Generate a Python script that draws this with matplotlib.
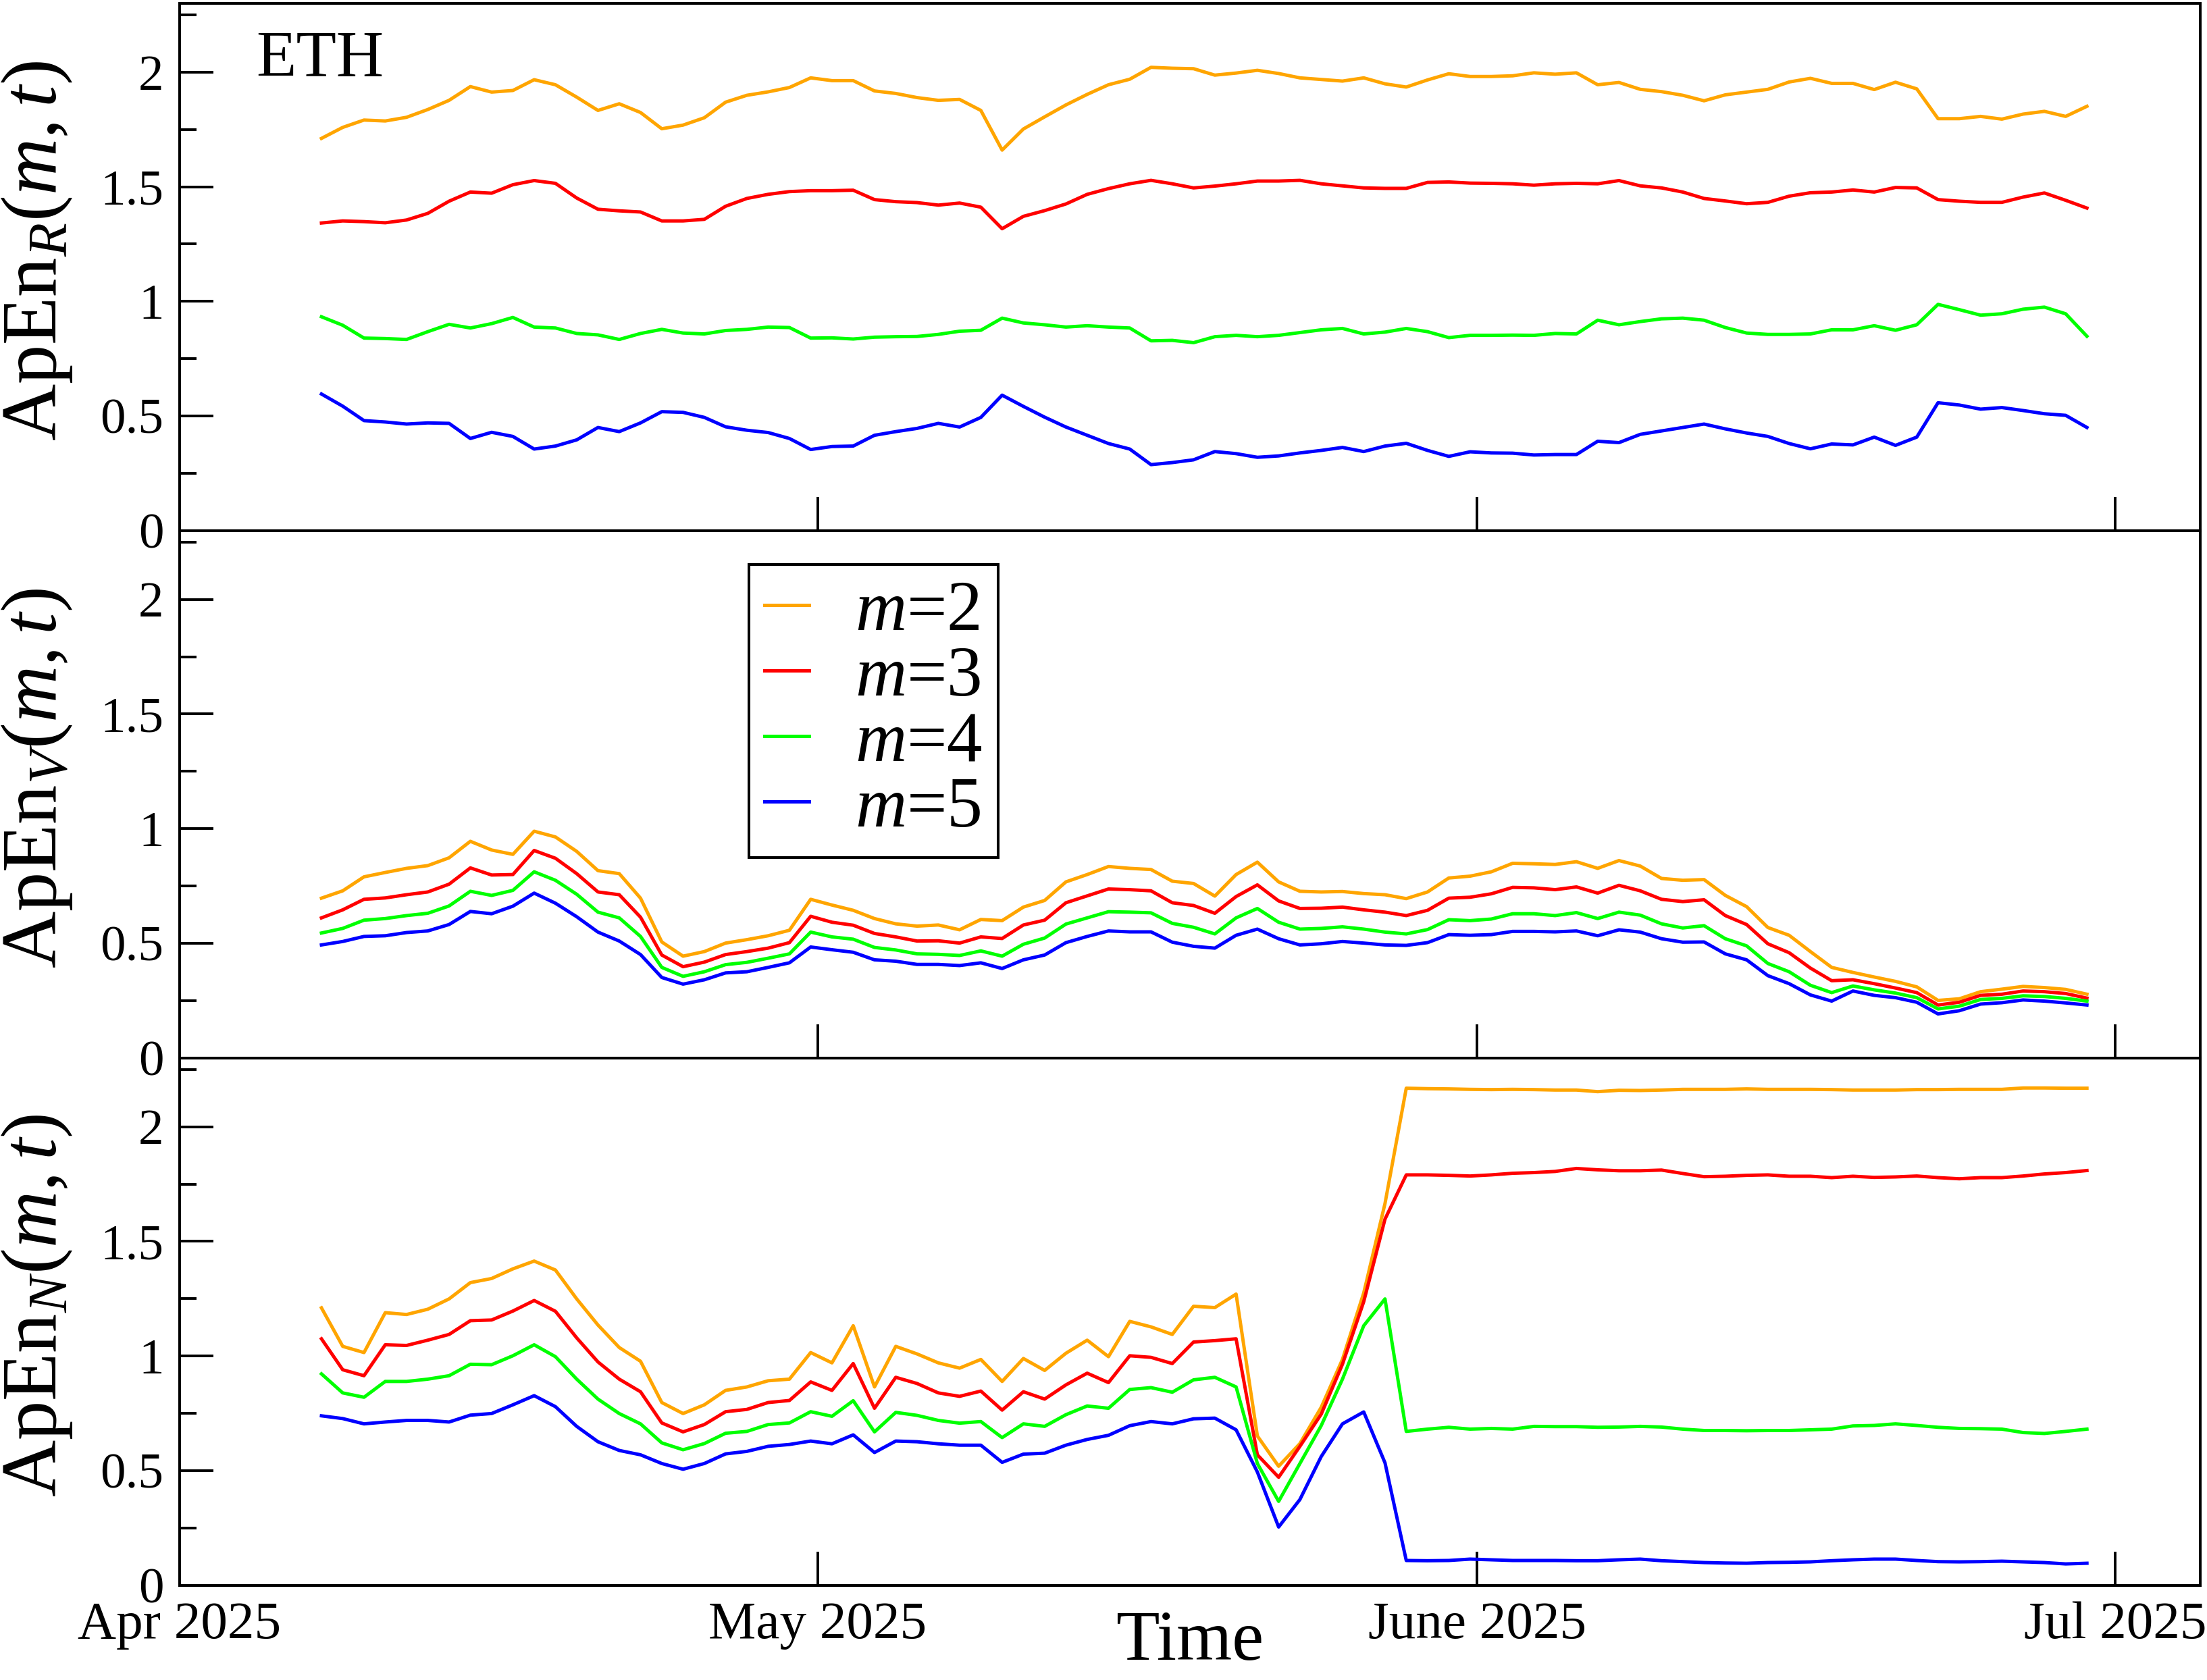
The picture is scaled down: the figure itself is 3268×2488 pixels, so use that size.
import matplotlib
matplotlib.use('Agg')
import matplotlib.pyplot as plt
import matplotlib.ticker as ticker
import pandas as pd

plt.rcParams['font.family'] = 'Liberation Serif'
plt.rcParams['mathtext.fontset'] = 'custom'
plt.rcParams['mathtext.rm'] = 'Liberation Serif'
plt.rcParams['mathtext.it'] = 'Liberation Serif:italic'

# daily windows, Apr 7 - Jun 29 2025
dates = pd.date_range('2025-04-07 16:00', periods=84, freq='D')

# --- ApEn_R ---
R_m2 = [1.711, 1.759, 1.791, 1.787, 1.803, 1.837, 1.877, 1.937, 1.913, 1.920, 1.967, 1.945, 1.891, 1.833,
        1.862, 1.824, 1.753, 1.769, 1.801, 1.869, 1.899, 1.914, 1.933, 1.975, 1.963, 1.963, 1.918, 1.907,
        1.889, 1.877, 1.881, 1.833, 1.660, 1.752, 1.805, 1.857, 1.903, 1.945, 1.969, 2.021, 2.017, 2.015,
        1.987, 1.996, 2.008, 1.994, 1.975, 1.968, 1.961, 1.975, 1.949, 1.935, 1.966, 1.993, 1.981,
        1.981, 1.984, 1.997, 1.991, 1.997, 1.945, 1.955, 1.925, 1.915, 1.899, 1.875, 1.901, 1.913, 1.925,
        1.957, 1.973, 1.951, 1.951, 1.924, 1.956, 1.927, 1.797, 1.797, 1.807, 1.795, 1.817, 1.829, 1.807, 1.851]
R_m3 = [1.342, 1.351, 1.348, 1.343, 1.355, 1.384, 1.437, 1.477, 1.472, 1.509, 1.527, 1.515, 1.451, 1.402,
        1.395, 1.390, 1.351, 1.351, 1.358, 1.415, 1.449, 1.467, 1.479, 1.483, 1.483, 1.485, 1.444, 1.435,
        1.431, 1.420, 1.429, 1.411, 1.317, 1.371, 1.396, 1.425, 1.467, 1.492, 1.513, 1.528, 1.513, 1.495,
        1.503, 1.513, 1.525, 1.525, 1.528, 1.513, 1.504, 1.495, 1.493, 1.493, 1.519, 1.521, 1.516,
        1.515, 1.513, 1.507, 1.513, 1.515, 1.513, 1.527, 1.504, 1.495, 1.477, 1.449, 1.438, 1.426, 1.432,
        1.459, 1.474, 1.477, 1.486, 1.477, 1.497, 1.495, 1.444, 1.437, 1.432, 1.432, 1.455, 1.473, 1.441, 1.407]
R_m4 = [0.933, 0.896, 0.840, 0.838, 0.834, 0.868, 0.900, 0.884, 0.903, 0.930, 0.888, 0.884, 0.860, 0.854,
        0.834, 0.860, 0.878, 0.862, 0.858, 0.873, 0.878, 0.888, 0.886, 0.840, 0.841, 0.836, 0.844, 0.846,
        0.847, 0.856, 0.870, 0.874, 0.927, 0.906, 0.898, 0.888, 0.894, 0.888, 0.884, 0.828, 0.830, 0.820,
        0.846, 0.852, 0.846, 0.852, 0.864, 0.876, 0.882, 0.858, 0.866, 0.882, 0.868, 0.842, 0.852,
        0.852, 0.853, 0.852, 0.860, 0.858, 0.918, 0.898, 0.912, 0.924, 0.927, 0.918, 0.886, 0.862, 0.856,
        0.856, 0.858, 0.876, 0.876, 0.894, 0.874, 0.898, 0.987, 0.964, 0.940, 0.946, 0.966, 0.975, 0.946, 0.848]
R_m5 = [0.596, 0.543, 0.480, 0.474, 0.465, 0.470, 0.468, 0.402, 0.429, 0.411, 0.356, 0.369, 0.396, 0.450,
        0.432, 0.470, 0.519, 0.516, 0.494, 0.453, 0.438, 0.428, 0.402, 0.354, 0.367, 0.369, 0.416, 0.432,
        0.446, 0.468, 0.452, 0.494, 0.591, 0.542, 0.495, 0.452, 0.416, 0.380, 0.356, 0.288, 0.297, 0.309,
        0.345, 0.336, 0.320, 0.326, 0.339, 0.350, 0.363, 0.345, 0.369, 0.381, 0.350, 0.324, 0.344,
        0.339, 0.338, 0.330, 0.332, 0.332, 0.390, 0.384, 0.420, 0.435, 0.450, 0.465, 0.444, 0.426, 0.411,
        0.380, 0.357, 0.378, 0.374, 0.408, 0.372, 0.408, 0.558, 0.548, 0.530, 0.537, 0.524, 0.510, 0.503, 0.450]

# --- ApEn_V ---
V_m2 = [0.697, 0.729, 0.790, 0.809, 0.827, 0.839, 0.873, 0.945, 0.907, 0.888, 0.989, 0.964, 0.901, 0.817,
        0.804, 0.697, 0.506, 0.444, 0.464, 0.501, 0.516, 0.533, 0.557, 0.692, 0.667, 0.644, 0.608, 0.585,
        0.575, 0.580, 0.559, 0.604, 0.599, 0.658, 0.687, 0.768, 0.800, 0.835, 0.827, 0.822, 0.771, 0.761,
        0.706, 0.800, 0.854, 0.768, 0.727, 0.724, 0.726, 0.717, 0.712, 0.695, 0.724, 0.785, 0.793,
        0.812, 0.849, 0.847, 0.844, 0.856, 0.827, 0.861, 0.837, 0.783, 0.775, 0.778, 0.709, 0.660, 0.569,
        0.535, 0.464, 0.395, 0.373, 0.353, 0.334, 0.310, 0.251, 0.258, 0.289, 0.300, 0.312, 0.307, 0.299, 0.278]
V_m3 = [0.611, 0.646, 0.692, 0.698, 0.712, 0.724, 0.758, 0.829, 0.798, 0.800, 0.905, 0.871, 0.804, 0.724,
        0.712, 0.614, 0.449, 0.398, 0.418, 0.451, 0.464, 0.479, 0.503, 0.618, 0.592, 0.579, 0.543, 0.528,
        0.510, 0.511, 0.501, 0.528, 0.521, 0.580, 0.601, 0.677, 0.707, 0.737, 0.734, 0.729, 0.677, 0.665,
        0.631, 0.704, 0.755, 0.685, 0.652, 0.653, 0.658, 0.646, 0.636, 0.621, 0.644, 0.697, 0.701,
        0.716, 0.744, 0.742, 0.734, 0.746, 0.719, 0.753, 0.729, 0.692, 0.682, 0.690, 0.621, 0.582, 0.498,
        0.459, 0.392, 0.337, 0.341, 0.324, 0.305, 0.285, 0.231, 0.243, 0.273, 0.278, 0.292, 0.289, 0.281, 0.261]
V_m4 = [0.545, 0.565, 0.601, 0.608, 0.621, 0.631, 0.663, 0.727, 0.709, 0.731, 0.812, 0.775, 0.714, 0.636,
        0.611, 0.530, 0.395, 0.356, 0.376, 0.407, 0.417, 0.435, 0.454, 0.549, 0.528, 0.518, 0.482, 0.471,
        0.454, 0.452, 0.447, 0.467, 0.444, 0.496, 0.523, 0.584, 0.611, 0.638, 0.636, 0.633, 0.587, 0.570,
        0.541, 0.611, 0.652, 0.592, 0.562, 0.565, 0.572, 0.562, 0.549, 0.541, 0.560, 0.603, 0.599,
        0.606, 0.629, 0.629, 0.621, 0.634, 0.608, 0.636, 0.623, 0.585, 0.567, 0.577, 0.520, 0.489, 0.412,
        0.376, 0.317, 0.285, 0.314, 0.297, 0.283, 0.263, 0.214, 0.226, 0.255, 0.260, 0.271, 0.268, 0.260, 0.248]
V_m5 = [0.493, 0.508, 0.530, 0.533, 0.547, 0.554, 0.582, 0.639, 0.629, 0.662, 0.719, 0.675, 0.616, 0.549,
        0.510, 0.451, 0.351, 0.322, 0.341, 0.371, 0.376, 0.395, 0.415, 0.484, 0.472, 0.461, 0.428, 0.422,
        0.408, 0.408, 0.403, 0.415, 0.390, 0.428, 0.449, 0.503, 0.530, 0.554, 0.550, 0.550, 0.505, 0.487,
        0.479, 0.535, 0.562, 0.520, 0.493, 0.498, 0.508, 0.501, 0.493, 0.491, 0.503, 0.538, 0.535,
        0.538, 0.552, 0.552, 0.550, 0.554, 0.533, 0.559, 0.549, 0.520, 0.505, 0.506, 0.454, 0.428, 0.359,
        0.324, 0.275, 0.248, 0.292, 0.273, 0.263, 0.243, 0.192, 0.206, 0.235, 0.241, 0.253, 0.248, 0.240, 0.231]

# --- ApEn_N ---
N_m2 = [1.210, 1.042, 1.015, 1.189, 1.181, 1.204, 1.249, 1.320, 1.338, 1.380, 1.414, 1.375, 1.249, 1.135,
        1.037, 0.977, 0.797, 0.749, 0.787, 0.850, 0.865, 0.892, 0.899, 1.015, 0.970, 1.132, 0.865, 1.042,
        1.009, 0.970, 0.947, 0.985, 0.889, 0.989, 0.937, 1.012, 1.069, 0.997, 1.151, 1.127, 1.094, 1.217,
        1.211, 1.270, 0.651, 0.519, 0.618, 0.776, 0.985, 1.275, 1.665, 2.168, 2.166, 2.165, 2.163,
        2.162, 2.163, 2.162, 2.160, 2.160, 2.153, 2.159, 2.158, 2.160, 2.163, 2.163, 2.163, 2.165, 2.163,
        2.163, 2.163, 2.162, 2.160, 2.160, 2.160, 2.162, 2.162, 2.163, 2.163, 2.163, 2.169, 2.169, 2.168, 2.168]
N_m3 = [1.075, 0.940, 0.914, 1.049, 1.046, 1.069, 1.094, 1.154, 1.157, 1.196, 1.242, 1.195, 1.079, 0.974,
        0.899, 0.844, 0.708, 0.669, 0.701, 0.757, 0.767, 0.797, 0.806, 0.887, 0.850, 0.967, 0.772, 0.907,
        0.880, 0.839, 0.824, 0.847, 0.764, 0.844, 0.812, 0.874, 0.925, 0.884, 1.001, 0.994, 0.967, 1.061,
        1.067, 1.075, 0.569, 0.471, 0.606, 0.746, 0.964, 1.237, 1.597, 1.790, 1.790, 1.788, 1.785,
        1.790, 1.797, 1.800, 1.805, 1.818, 1.812, 1.808, 1.808, 1.811, 1.796, 1.782, 1.784, 1.788, 1.790,
        1.784, 1.784, 1.778, 1.784, 1.779, 1.781, 1.785, 1.778, 1.773, 1.778, 1.778, 1.785, 1.794, 1.800, 1.809]
N_m4 = [0.922, 0.839, 0.820, 0.889, 0.889, 0.899, 0.914, 0.964, 0.962, 1.001, 1.049, 0.997, 0.899, 0.812,
        0.749, 0.704, 0.621, 0.591, 0.618, 0.663, 0.671, 0.701, 0.708, 0.757, 0.737, 0.805, 0.669, 0.754,
        0.741, 0.719, 0.707, 0.714, 0.644, 0.704, 0.693, 0.744, 0.782, 0.772, 0.854, 0.862, 0.842, 0.896,
        0.907, 0.865, 0.531, 0.366, 0.531, 0.696, 0.899, 1.132, 1.249, 0.671, 0.681, 0.689, 0.681,
        0.684, 0.681, 0.693, 0.692, 0.692, 0.689, 0.690, 0.693, 0.690, 0.681, 0.675, 0.675, 0.674, 0.675,
        0.675, 0.678, 0.681, 0.695, 0.697, 0.704, 0.697, 0.689, 0.684, 0.683, 0.681, 0.666, 0.662, 0.671, 0.681]
N_m5 = [0.739, 0.727, 0.704, 0.712, 0.719, 0.719, 0.712, 0.742, 0.749, 0.787, 0.827, 0.779, 0.693, 0.626,
        0.588, 0.569, 0.531, 0.506, 0.531, 0.573, 0.584, 0.606, 0.614, 0.629, 0.617, 0.656, 0.579, 0.629,
        0.626, 0.617, 0.611, 0.611, 0.536, 0.572, 0.576, 0.611, 0.636, 0.654, 0.696, 0.714, 0.704, 0.726,
        0.729, 0.678, 0.494, 0.254, 0.374, 0.561, 0.704, 0.756, 0.534, 0.108, 0.107, 0.108, 0.114,
        0.111, 0.108, 0.108, 0.108, 0.107, 0.107, 0.111, 0.114, 0.107, 0.103, 0.099, 0.097, 0.096, 0.099,
        0.100, 0.102, 0.107, 0.111, 0.114, 0.114, 0.108, 0.103, 0.102, 0.103, 0.105, 0.102, 0.099, 0.093, 0.096]

colors = ['#FFA500', '#FF0000', '#00FF00', '#0000FF']
labels = [r'$m$=2', r'$m$=3', r'$m$=4', r'$m$=5']
panels = [(r'ApEn$_R$$(m,t)$', [R_m2, R_m3, R_m4, R_m5]),
          (r'ApEn$_V$$(m,t)$', [V_m2, V_m3, V_m4, V_m5]),
          (r'ApEn$_N$$(m,t)$', [N_m2, N_m3, N_m4, N_m5])]

month_ticks = pd.to_datetime(['2025-04-01', '2025-05-01', '2025-06-01', '2025-07-01'])
month_labels = ['Apr 2025', 'May 2025', 'June 2025', 'Jul 2025']

fig, axes = plt.subplots(3, 1, figsize=(32.68, 24.88), dpi=100, sharex=True)
fig.subplots_adjust(left=0.0814, right=0.997, top=0.998, bottom=0.0564, hspace=0)

for ax, (ylab, series) in zip(axes, panels):
    for s, c, lab in zip(series, colors, labels):
        ax.plot(dates, s, color=c, lw=3.6, label=lab)
    ax.set_ylim(0, 2.3)
    ax.yaxis.set_major_locator(ticker.MultipleLocator(0.5))
    ax.yaxis.set_minor_locator(ticker.MultipleLocator(0.25))
    ax.yaxis.set_major_formatter(ticker.FuncFormatter(lambda v, p: '%g' % v))
    ax.set_ylabel(ylab, fontsize=84)
    ax.yaxis.set_label_coords(-0.052, 0.53)
    ax.tick_params(axis='both', which='major', direction='in', length=36, width=2.8,
                   top=False, right=False)
    ax.tick_params(axis='y', which='major', pad=17, labelsize=54)
    ax.tick_params(axis='x', which='major', pad=17, labelsize=57)
    ax.tick_params(axis='y', which='minor', direction='in', length=18, width=2.8, right=False)
    for sp in ax.spines.values():
        sp.set_linewidth(2.9)

axes[2].set_xticks(month_ticks)
axes[2].set_xticklabels(month_labels)
axes[2].set_xlim(pd.Timestamp('2025-04-01'), pd.Timestamp('2025-07-05'))
axes[2].xaxis.set_minor_locator(ticker.NullLocator())

axes[0].text(0.0378, 0.862, 'ETH', transform=axes[0].transAxes, fontsize=70, va='baseline')

leg = axes[1].legend(loc='upper left', bbox_to_anchor=(0.2818, 0.936), borderaxespad=0,
                     fontsize=76, frameon=True, fancybox=False, edgecolor='black',
                     handlelength=0.62, handletextpad=0.65, labelspacing=0.0, borderpad=0.22)
leg.get_frame().set_linewidth(2.9)
leg.get_frame().set_alpha(1)

axes[2].set_xlabel('Time', fontsize=76, va='top')
axes[2].xaxis.set_label_coords(0.5, -0.047)

fig.savefig('out.png', dpi=100)
